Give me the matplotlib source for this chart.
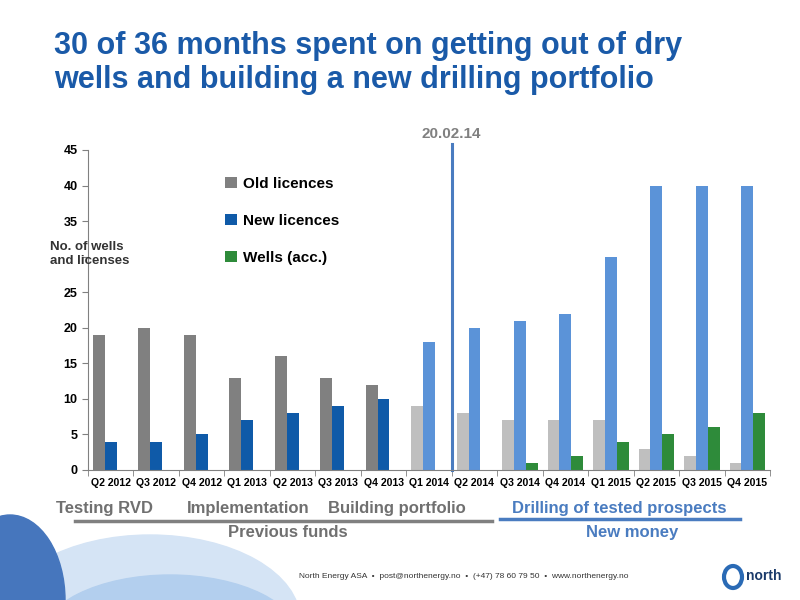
import matplotlib
matplotlib.use("Agg")
import matplotlib.pyplot as plt
import numpy as np
from matplotlib.patches import Ellipse

quarters = ["Q2 2012","Q3 2012","Q4 2012","Q1 2013","Q2 2013","Q3 2013","Q4 2013","Q1 2014",
            "Q2 2014","Q3 2014","Q4 2014","Q1 2015","Q2 2015","Q3 2015","Q4 2015"]
old_lic = [19,20,19,13,16,13,12,9,8,7,7,7,3,2,1]
new_lic = [4,4,5,7,8,9,10,18,20,21,22,30,40,40,40]
wells = [0,0,0,0,0,0,0,0,0,1,2,4,5,6,8]

plt.rcParams['font.family'] = ['Liberation Sans', 'DejaVu Sans']
fig = plt.figure(figsize=(8,6), dpi=100)
fig.patch.set_facecolor('white')

bg = fig.add_axes([0,0,1,1], zorder=-1)
bg.set_xlim(0,800); bg.set_ylim(600,0); bg.axis('off')
bg.add_patch(Ellipse((150,620),300,170,color='#d5e4f5'))
bg.add_patch(Ellipse((170,640),260,130,color='#b3cfee'))
bg.add_patch(Ellipse((10,600),110,170,color='#4676bd'))

ax = fig.add_axes([0.11,0.2167,0.8525,0.5333])
x = np.arange(len(quarters))
w = 0.26
old_c = ['#808080']*7 + ['#bfbfbf']*8
new_c = ['#0f5aa8']*7 + ['#5b93d8']*8
ax.bar(x-w, old_lic, w, color=old_c, label='Old licences')
ax.bar(x, new_lic, w, color=new_c, label='New licences')
ax.bar(x+w, wells, w, color='#2e8b3a', label='Wells (acc.)')
ax.set_xlim(-0.5, 14.5)
ax.set_ylim(0,45)
ax.set_yticks(range(0,50,5))
ax.set_yticklabels(['' if v == 30 else str(v) for v in range(0,50,5)])
ax.set_xticks(x)
ax.set_xticklabels(quarters, fontsize=7.6)
ax.tick_params(axis='y', labelsize=9, length=4, color='#808080')
ax.tick_params(axis='x', length=0, pad=6)
for lab in ax.get_yticklabels(): lab.set_fontweight('bold')
for lab in ax.get_xticklabels(): lab.set_fontweight('bold')
ax.set_xticks(np.arange(-0.5,15,1), minor=True)
ax.tick_params(axis='x', which='minor', length=4, color='#808080')
for s in ['top','right']: ax.spines[s].set_visible(False)
ax.spines['left'].set_color('#808080'); ax.spines['bottom'].set_color('#808080')
ax.axvline(7.5, color='#4a7cc0', lw=2.2, ymax=1.02, clip_on=False)
ax.text(7.5, 46.3, '20.02.14', ha='center', va='bottom', fontsize=11, fontweight='bold', color='#808080')
ax.legend(loc='upper left', bbox_to_anchor=(0.18,0.96), frameon=False,
          handlelength=0.8, handleheight=0.8, handletextpad=0.4, labelspacing=1.5,
          prop={'weight':'bold','size':11})
fig.text(0.063, 0.577, 'No. of wells\nand licenses', fontsize=9.5, fontweight='bold', color='#333333',
         va='center', ha='left', linespacing=1.2)

fig.text(0.068, 0.895, '30 of 36 months spent on getting out of dry\nwells and building a new drilling portfolio',
         fontsize=22, fontweight='bold', color='#1a5aa8', va='center', linespacing=1.2)

for t, xp in [('Testing RVD',0.07),('Implementation',0.233),('Building portfolio',0.41)]:
    fig.text(xp, 0.152, t, fontsize=12, fontweight='bold', color='#707070', va='center')
fig.text(0.64, 0.152, 'Drilling of tested prospects', fontsize=12, fontweight='bold', color='#4a7cc0', va='center')
bg.plot([75,492],[521,521], color='#808080', lw=2.5)
bg.plot([500,740],[519,519], color='#4a7cc0', lw=2.5)
fig.text(0.36, 0.113, 'Previous funds', fontsize=12, fontweight='bold', color='#707070', ha='center', va='center')
fig.text(0.79, 0.113, 'New money', fontsize=12, fontweight='bold', color='#4a7cc0', ha='center', va='center')
fig.text(0.58, 0.04, 'North Energy ASA  •  post@northenergy.no  •  (+47) 78 60 79 50  •  www.northenergy.no',
         fontsize=6, color='#333333', ha='center', va='center')
fig.text(0.955, 0.04, 'north', fontsize=10, fontweight='bold', color='#1a3a6a', ha='center', va='center')
bg.add_patch(Ellipse((733,577),18,22,fill=False,ec='#2a6ab5',lw=3))
fig.savefig('out.png', dpi=100)
